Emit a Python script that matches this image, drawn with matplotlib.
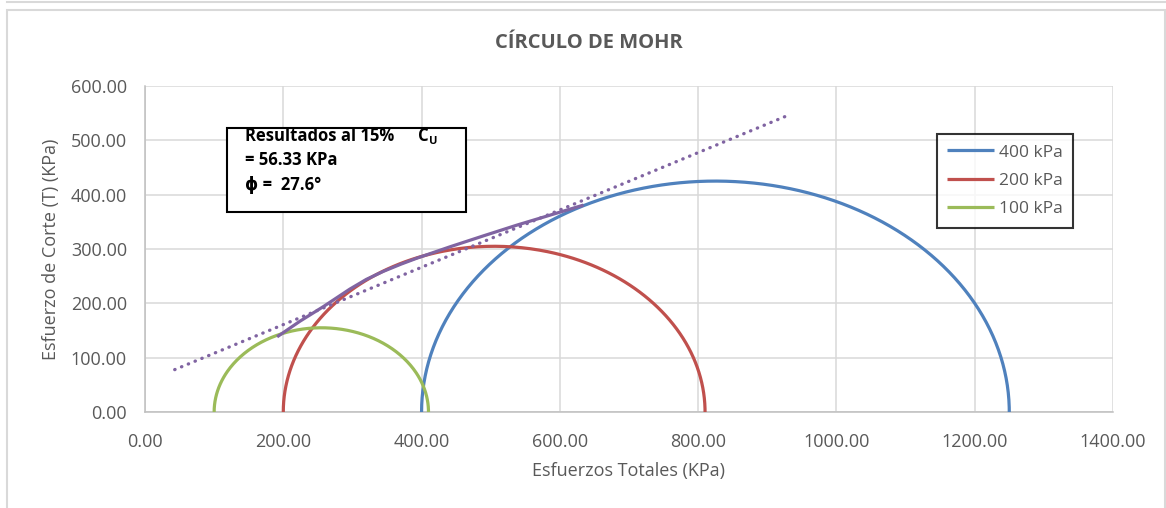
import numpy as np
import matplotlib
matplotlib.use('Agg')
import matplotlib.pyplot as plt
from matplotlib.patches import Rectangle
from matplotlib.lines import Line2D

plt.rcParams['font.family'] = ['Open Sans', 'DejaVu Sans']

# datos de los circulos de Mohr (kPa)
labels = ['400 kPa', '200 kPa', '100 kPa']
sigma3 = [400, 200, 100]
sigma1 = [1250, 810, 410]
colors = ['#4F81BD', '#C0504D', '#9BBB59']

# envolvente (curva)
env_x = [193, 224, 258, 296, 320, 345, 370, 393, 441, 489, 538, 632]
env_y = [140, 167, 194, 226, 244, 259, 272, 283, 304, 324, 344, 380]

# recta de falla (c = 56.33 kPa, phi = 27.6)
line_x = [43, 930]
line_y = [78, 546]

W, H = 1166, 508
fig = plt.figure(figsize=(W / 100, H / 100), dpi=100)
ax = fig.add_axes([145 / W, 1 - 412 / H, (1113 - 145) / W, (412 - 86) / H])

gray = '#595959'
for lab, s3, s1, c in zip(labels, sigma3, sigma1, colors):
    cen = (s1 + s3) / 2.0
    r = (s1 - s3) / 2.0
    t = np.linspace(np.pi, 0, 300)
    ax.plot(cen + r * np.cos(t), r * np.sin(t), color=c, lw=2.3, label=lab,
            solid_capstyle='butt', zorder=3)

ax.plot(env_x, env_y, color='#8064A2', lw=2.3, zorder=4, solid_joinstyle='round')
ax.plot(line_x, line_y, color='#8064A2', lw=2.4, linestyle=(0, (0.1, 2.1)),
        dash_capstyle='round', zorder=5)

ax.set_xlim(0, 1400)
ax.set_ylim(0, 600)
ax.set_xticks(np.arange(0, 1401, 200))
ax.set_yticks(np.arange(0, 601, 100))
ax.set_xticklabels(['%.2f' % v for v in np.arange(0, 1401, 200)])
ax.set_yticklabels(['%.2f' % v for v in np.arange(0, 601, 100)])
ax.tick_params(length=0, labelsize=13, labelcolor=gray)
ax.tick_params(axis='x', pad=15)
ax.tick_params(axis='y', pad=13)
ax.grid(True, color='#d9d9d9', lw=1.1)
ax.set_axisbelow(True)
for s in ['top', 'right']:
    ax.spines[s].set_visible(False)
for s in ['left', 'bottom']:
    ax.spines[s].set_color('#bfbfbf')
    ax.spines[s].set_linewidth(1.1)

ax.set_xlabel('Esfuerzos Totales (KPa)', fontsize=13, color=gray, labelpad=8)
ax.set_ylabel('Esfuerzo de Corte (T) (KPa)', fontsize=13, color=gray, labelpad=8)
fig.text(589 / W, 1 - 43 / H, 'CÍRCULO DE MOHR', fontsize=14.5, fontweight='bold',
         color=gray, ha='center', va='center')

# cuadro de resultados
fig.patches.append(Rectangle((227 / W, 1 - 212 / H), (466 - 227) / W, (212 - 128) / H,
                             transform=fig.transFigure, fill=True, fc='white',
                             ec='black', lw=1.5, zorder=10))
fig.text(245 / W, 1 - 136 / H, 'Resultados al 15%', fontsize=12, fontweight='bold',
         va='center', zorder=11)
fig.text(418 / W, 1 - 136 / H, 'C', fontsize=12, fontweight='bold', va='center', zorder=11)
fig.text(429 / W, 1 - 141 / H, 'U', fontsize=8, fontweight='bold', va='center', zorder=11)
fig.text(245 / W, 1 - 160 / H, '= 56.33 KPa', fontsize=12, fontweight='bold',
         va='center', zorder=11)
fig.text(245 / W, 1 - 185 / H, 'ϕ =  27.6°', fontsize=12, fontweight='bold',
         va='center', zorder=11)

leg = ax.legend(loc='upper left', bbox_to_anchor=(937 / W, 1 - 134 / H),
                bbox_transform=fig.transFigure, fontsize=12.5, frameon=True,
                fancybox=False, edgecolor='black', handlelength=2.7,
                handletextpad=0.25, labelspacing=0.7, borderpad=0.6,
                borderaxespad=0)
leg.get_frame().set_linewidth(1.5)
for t in leg.get_texts():
    t.set_color(gray)

# marco del grafico
fig.add_artist(Rectangle((7 / W, -0.05), (1165 - 7) / W, 1 - 10 / H + 0.05,
                         transform=fig.transFigure, fill=False, ec='#d9d9d9', lw=1.5))
fig.add_artist(Line2D([7 / W, 1], [1 - 2 / H, 1 - 2 / H], transform=fig.transFigure,
                      color='#d9d9d9', lw=1.5))

fig.savefig('out.png', dpi=100)
